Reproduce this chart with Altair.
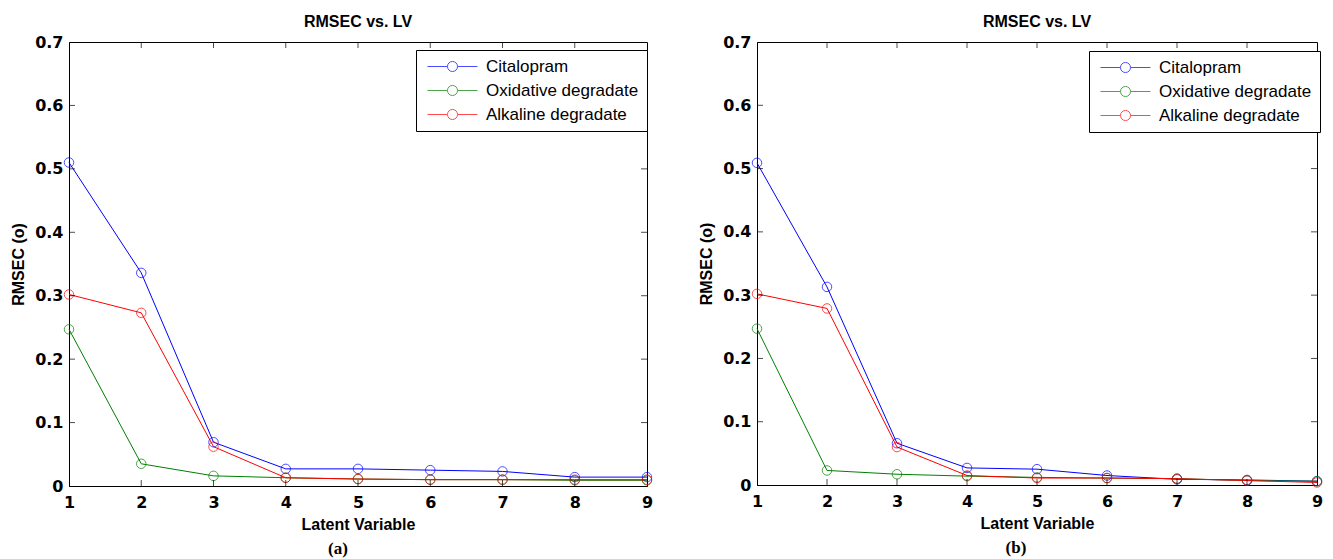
import altair as alt
import pandas as pd

lv = [1, 2, 3, 4, 5, 6, 7, 8, 9]
series = ["Citalopram", "Oxidative degradate", "Alkaline degradate"]
colors = ["#0000ff", "#008000", "#ff0000"]

# panel (a)
a_cit = [0.510, 0.336, 0.069, 0.027, 0.027, 0.025, 0.023, 0.014, 0.014]
a_oxi = [0.247, 0.035, 0.016, 0.013, 0.011, 0.010, 0.010, 0.009, 0.009]
a_alk = [0.302, 0.273, 0.062, 0.013, 0.011, 0.010, 0.010, 0.010, 0.010]

# panel (b)
b_cit = [0.509, 0.313, 0.066, 0.027, 0.025, 0.015, 0.009, 0.008, 0.006]
b_oxi = [0.247, 0.023, 0.017, 0.014, 0.012, 0.011, 0.010, 0.007, 0.006]
b_alk = [0.302, 0.279, 0.060, 0.015, 0.011, 0.011, 0.010, 0.007, 0.004]

y_ticks = [0.0, 0.1, 0.2, 0.3, 0.4, 0.5, 0.6, 0.7]
x_inner = [2, 3, 4, 5, 6, 7, 8]
y_inner = [0.1, 0.2, 0.3, 0.4, 0.5, 0.6]

SANS = "Liberation Sans, Arial, sans-serif"
TICKF = "DejaVu Sans, Verdana, sans-serif"
SERIF = "Liberation Serif, Times New Roman, serif"

LEG_PATH = ("M-3.57,0L-0.72,0M0.72,0L3.57,0"
            "M0.72,0A0.72,0.72,0,1,1,-0.72,0A0.72,0.72,0,1,1,0.72,0")


def panel(vals, w, h, caption, lx, ly, cap_x):
    df = pd.DataFrame({
        "lv": lv * 3,
        "rmsec": vals[0] + vals[1] + vals[2],
        "series": [s for s in series for _ in lv],
    })
    xs = alt.X("lv:Q", scale=alt.Scale(domain=[1, 9], nice=False, zero=False),
               axis=alt.Axis(values=lv, title="Latent Variable", format="d"))
    ys = alt.Y("rmsec:Q", scale=alt.Scale(domain=[0, 0.7], nice=False),
               axis=alt.Axis(values=y_ticks, title="RMSEC (o)",
                             labelExpr="datum.value == 0 ? '0' : format(datum.value, '.1f')"))
    col = alt.Color("series:N", scale=alt.Scale(domain=series, range=colors),
                    legend=alt.Legend(
                        title=None, orient="none", legendX=lx, legendY=ly,
                        symbolType=LEG_PATH, symbolSize=196, symbolStrokeWidth=1,
                        symbolFillColor="transparent",
                        labelFont=SANS, labelFontSize=17, labelColor="black",
                        labelLimit=400,
                        padding=8, rowPadding=6, symbolOffset=20, labelOffset=25,
                        strokeColor="black", fillColor="white", cornerRadius=0,
                    ))
    base = alt.Chart(df)
    lines = base.mark_line(strokeWidth=1).encode(x=xs, y=ys, color=col)
    pts = base.mark_point(filled=False, size=90, strokeWidth=1).encode(
        x=xs, y=ys, color=col)

    tx = pd.DataFrame({"lv": x_inner * 2,
                       "rmsec": [0.0] * len(x_inner) + [0.7] * len(x_inner)})
    ty = pd.DataFrame({"lv": [1] * len(y_inner) + [9] * len(y_inner),
                       "rmsec": y_inner * 2})
    tick_x = alt.Chart(tx).mark_tick(orient="vertical", size=12, thickness=1,
                                     clip=True, color="black").encode(x=xs, y=ys)
    tick_y = alt.Chart(ty).mark_tick(orient="horizontal", size=12, thickness=1,
                                     clip=True, color="black").encode(x=xs, y=ys)

    cap = alt.Chart(pd.DataFrame({"t": [caption]})).mark_text(
        font=SERIF, fontSize=17, fontWeight="bold", color="black",
        align="center", baseline="middle"
    ).encode(text="t:N", x=alt.value(cap_x), y=alt.value(h + 63))

    return alt.layer(lines, pts, tick_x, tick_y, cap).properties(
        width=w, height=h,
        title=alt.TitleParams("RMSEC vs. LV", font=SANS, fontSize=16,
                              fontWeight="bold", color="black", offset=4),
    )


pa = panel([a_cit, a_oxi, a_alk], 578, 444, "(a)", 347, 8, 269)
pb = panel([b_cit, b_oxi, b_alk], 560, 443, "(b)", 332, 9, 259)

chart = alt.hconcat(pa, pb, spacing=43).resolve_scale(
    color="independent"
).resolve_legend(
    color="independent"
).properties(
    padding={"left": 2, "top": 5, "right": 0, "bottom": 0}
).configure_view(
    stroke="black", strokeWidth=1
).configure_axis(
    grid=False, domainColor="black", domainWidth=1, ticks=False, tickSize=0,
    labelFont=TICKF, labelFontSize=16, labelFontWeight="bold", labelColor="black",
    labelFlush=False, labelOverlap=False,
    titleFont=SANS, titleFontSize=16, titleFontWeight="bold", titleColor="black",
).configure_axisX(
    labelPadding=8, titlePadding=6
).configure_axisY(
    labelPadding=6, titlePadding=8
)

chart.save("out.html", embed_options={"renderer": "svg", "actions": False})
